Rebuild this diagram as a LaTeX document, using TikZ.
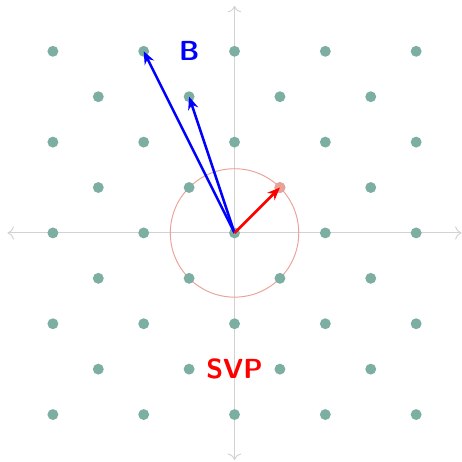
\documentclass[tikz,border=0pt]{standalone}
\usepackage{xcolor}
\usepackage{tikz}
\usetikzlibrary{arrows.meta, positioning, calc}
\definecolor{lattice}{RGB}{124, 174, 162}
\definecolor{svpdot}{RGB}{234, 162, 152}

\begin{document}
\begin{tikzpicture}[
    x=1cm, y=1cm,
    % Point Styles
    latpt/.style={circle, fill=#1, inner sep=0pt, minimum size=0.24cm},
    % Line Styles
    axis/.style={{To[length=4pt]}-{To[length=4pt]}, line width=0.6pt, color=gray!35},
    basisarrow/.style={-{Stealth[length=8pt, width=6.5pt]}, line width=1.6pt, color=blue},
    svparrow/.style={-{Stealth[length=8pt, width=6.5pt]}, line width=1.6pt, color=red},
    ball/.style={draw=svpdot, line width=0.6pt},
    lbl/.style={font=\LARGE\sffamily\bfseries, text=#1}
]
    \useasboundingbox (-5.165, -5.04) rectangle (5.01, 5.13);

    % =========================================================================
    % AXES
    % =========================================================================
    \coordinate (xl) at (-5, 0);
    \coordinate (xr) at (5, 0);
    \coordinate (yb) at (0, -5);
    \coordinate (yt) at (0, 5);
    \draw[axis] (xl) -- (xr);
    \draw[axis] (yb) -- (yt);

    % =========================================================================
    % SHORTEST VECTOR BALL
    % =========================================================================
    \coordinate (O) at (0, 0);
    \draw[ball] (O) circle ({sqrt(2)});

    % =========================================================================
    % LATTICE POINTS
    % =========================================================================
    \foreach \i in {-4,...,4} {
      \foreach \j in {-4,...,4} {
        \pgfmathtruncatemacro{\parity}{mod(\i+\j+8,2)}
        \pgfmathtruncatemacro{\ni}{\i+4}
        \pgfmathtruncatemacro{\nj}{\j+4}
        \ifnum\parity=0
          \node (pt\ni\nj) [latpt=lattice] at (\i, \j) {};
        \fi
      }
    }
    \node (svp_pt) [latpt=svpdot] at (1, 1) {};

    % =========================================================================
    % BASIS AND SHORTEST VECTOR
    % =========================================================================
    \draw[basisarrow] (O) -- (pt28.center);
    \draw[basisarrow] (O) -- (pt37.center);
    \draw[svparrow] (O) -- (svp_pt.center);

    % =========================================================================
    % LABELS
    % =========================================================================
    \node (lbl_b) [lbl=blue] at (-1, 4) {B};
    \node (lbl_svp) [lbl=red] at (0, -3) {SVP};

\end{tikzpicture}
\end{document}
